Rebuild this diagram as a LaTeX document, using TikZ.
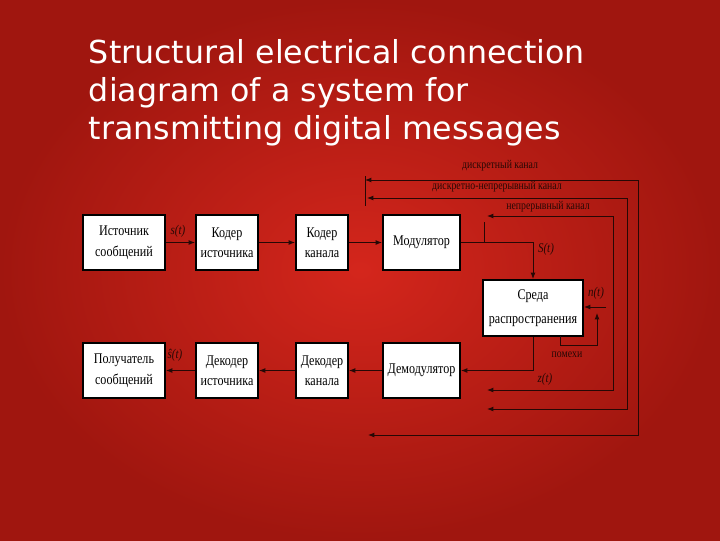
\documentclass[tikz,border=0pt]{standalone}
\usepackage{fontspec}
\setmainfont{Liberation Serif}
\newfontfamily\titlefont{DejaVu Sans}
\newfontfamily\boxfont[FakeStretch=0.82]{Liberation Serif}
\usetikzlibrary{arrows.meta}
\definecolor{slidered}{RGB}{212,38,28}
\definecolor{slidedark}{RGB}{160,22,15}
\definecolor{wireblack}{RGB}{38,8,5}

\begin{document}
\begin{tikzpicture}[x=0.025cm, y=-0.025cm,
    block/.style={draw=black, line width=1.4pt, fill=white, inner sep=1pt, align=center,
        font=\boxfont\fontsize{10.5}{14.5}\selectfont},
    wire/.style={draw=wireblack, line width=0.7pt},
    arr/.style={wire, -{Latex[length=4.5pt,width=3.5pt]}},
    chan/.style={wire, {Latex[length=4.5pt,width=3.5pt]}-{Latex[length=4.5pt,width=3.5pt]}},
    lbl/.style={text=wireblack, font=\boxfont\itshape\fontsize{9.5}{10}\selectfont},
    chlbl/.style={text=wireblack, font=\boxfont\fontsize{8.5}{10}\selectfont},
    heading/.style={anchor=base west, text=white, font=\titlefont\fontsize{22.5}{27}\selectfont}]

        % Background
        \shade[inner color=slidered, outer color=slidedark] (0,0) rectangle (720,540);
        \useasboundingbox (0,0) rectangle (720,540);

        % Title
        \node[heading] (title1) at (84,63) {Structural electrical connection};
        \node[heading] (title2) at (84,101) {diagram of a system for};
        \node[heading] (title3) at (84,139) {transmitting digital messages};

        % Transmitter row
        \node[block, minimum width=2.05cm, minimum height=1.375cm] (src) at (124,242.5) {Источник\\сообщений};
        \node[block, minimum width=1.55cm, minimum height=1.375cm] (csrc) at (227,242.5) {Кодер\\источника};
        \node[block, minimum width=1.3cm, minimum height=1.375cm] (cch) at (322,242.5) {Кодер\\канала};
        \node[block, minimum width=1.925cm, minimum height=1.375cm] (mod) at (421.5,242.5) {Модулятор};

        % Medium
        \node[block, minimum width=2.5cm, minimum height=1.4cm, font=\boxfont\fontsize{10.5}{17}\selectfont] (env) at (533,308) {Среда\\распространения};

        % Receiver row
        \node[block, minimum width=2.05cm, minimum height=1.375cm] (rcv) at (124,370.5) {Получатель\\сообщений};
        \node[block, minimum width=1.55cm, minimum height=1.375cm] (dsrc) at (227,370.5) {Декодер\\источника};
        \node[block, minimum width=1.3cm, minimum height=1.375cm] (dch) at (322,370.5) {Декодер\\канала};
        \node[block, minimum width=1.925cm, minimum height=1.375cm] (dem) at (421.5,370.5) {Демодулятор};

        % Signal path
        \draw[arr] (src) -- (csrc);
        \draw[arr] (csrc) -- (cch);
        \draw[arr] (cch) -- (mod);
        \draw[arr] (mod.east) -| (env.north);
        \draw[arr] (env.south) |- (dem.east);
        \draw[arr] (dem) -- (dch);
        \draw[arr] (dch) -- (dsrc);
        \draw[arr] (dsrc) -- (rcv);

        % Signal labels
        \node[lbl] (ls) at (178,231) {s(t)};
        \node[lbl] (lS) at (546,249) {S(t)};
        \node[lbl] (ln) at (596,293) {n(t)};
        \node[lbl] (lz) at (545,379) {z(t)};
        \node[lbl] (lhat) at (175,355) {ŝ(t)};

        % Interference
        \coordinate (nz) at (606,307);
        \coordinate (nz1) at (560,336);
        \coordinate (nz2) at (560,345);
        \coordinate (nz3) at (597,345);
        \coordinate (nz4) at (597,313);
        \draw[arr] (nz) -- (env.east |- nz);
        \draw[arr] (nz1) -- (nz2) -- (nz3) -- (nz4);
        \node[chlbl] (lnoise) at (567,355) {помехи};

        % Discrete channel
        \coordinate (dk1) at (365,180);
        \coordinate (dk2) at (638,180);
        \coordinate (dk3) at (638,435);
        \coordinate (dk4) at (368,435);
        \draw[chan] (dk1) -- (dk2) -- (dk3) -- (dk4);
        \draw[wire] (365,176) -- (365,206);
        \node[chlbl] (ldk) at (500,166) {дискретный канал};

        % Discrete-continuous channel
        \coordinate (dn1) at (367,198);
        \coordinate (dn2) at (627,198);
        \coordinate (dn3) at (627,409);
        \coordinate (dn4) at (487,409);
        \draw[chan] (dn1) -- (dn2) -- (dn3) -- (dn4);
        \node[chlbl] (ldn) at (497,187) {дискретно-непрерывный канал};

        % Continuous channel
        \coordinate (nk1) at (487,216);
        \coordinate (nk2) at (613,216);
        \coordinate (nk3) at (613,390);
        \coordinate (nk4) at (487,390);
        \draw[chan] (nk1) -- (nk2) -- (nk3) -- (nk4);
        \draw[wire] (484,222) -- (484,242.5);
        \node[chlbl] (lnk) at (548,207) {непрерывный канал};
    \end{tikzpicture}
\end{document}
